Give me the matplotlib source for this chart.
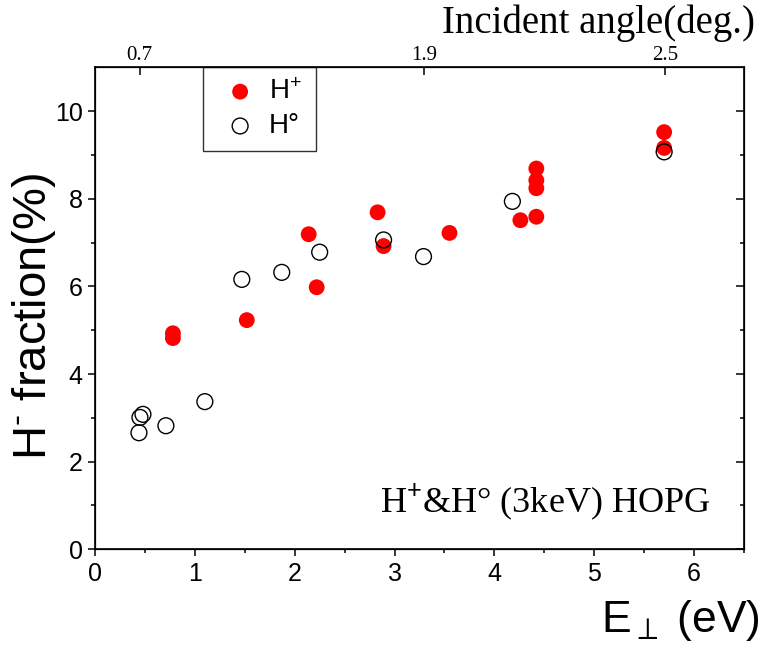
import numpy as np
import matplotlib
matplotlib.use("Agg")
import matplotlib.pyplot as plt
from matplotlib.ticker import MultipleLocator, FixedLocator

plt.rcParams["font.family"] = ["Liberation Sans", "DejaVu Sans"]
plt.rcParams["mathtext.fontset"] = "custom"
plt.rcParams["mathtext.rm"] = "Liberation Sans"
plt.rcParams["mathtext.it"] = "Liberation Sans:italic"

# H+ beam (filled red)
e_hplus = [0.78, 0.78, 1.52, 2.14, 2.22, 2.83, 2.89, 3.55, 4.26, 4.42, 4.42, 4.42, 4.42, 5.70, 5.70]
f_hplus = [4.93, 4.82, 5.23, 7.19, 5.98, 7.69, 6.92, 7.22, 7.51, 7.59, 8.69, 8.42, 8.24, 9.52, 9.16]

# H0 beam (open circles)
e_h0 = [0.44, 0.45, 0.48, 0.71, 1.10, 1.47, 1.87, 2.25, 2.89, 3.29, 4.18, 5.70]
f_h0 = [2.66, 3.01, 3.08, 2.82, 3.37, 6.16, 6.32, 6.78, 7.06, 6.68, 7.94, 9.07]

# top axis: incident angle (deg) for 3 keV beam
angles = [0.7, 1.9, 2.5]
energy_ev = 3000.0
angle_pos = [energy_ev * np.sin(np.radians(a)) ** 2 for a in angles]

serif = ["Liberation Serif", "DejaVu Serif"]

fig = plt.figure(figsize=(7.62, 6.52), dpi=100)
ax = fig.add_axes([0.1247, 0.1575, 0.8517, 0.7393])

ax.scatter(e_hplus, f_hplus, s=130, c="#ff0000", edgecolors="none", label=r"H$^{+}$", zorder=3)
ax.scatter(e_h0, f_h0, s=130, facecolors="none", edgecolors="black", linewidths=1.0,
           label="H°", zorder=4)

ax.set_xlim(0, 6.5)
ax.set_ylim(0, 11)
ax.xaxis.set_major_locator(MultipleLocator(1))
ax.xaxis.set_minor_locator(MultipleLocator(0.5))
ax.yaxis.set_major_locator(FixedLocator([0, 2, 4, 6, 8, 10]))
ax.yaxis.set_minor_locator(FixedLocator([1, 3, 5, 7, 9]))

for sp in ax.spines.values():
    sp.set_linewidth(1.2)

ax.tick_params(axis="both", which="major", direction="out", length=5, width=1.1,
               labelsize=18, pad=4)
ax.tick_params(axis="both", which="minor", direction="out", length=3, width=1.1)
ax.tick_params(top=False, right=False)

# right-side inward ticks
axr = ax.twinx()
axr.set_ylim(ax.get_ylim())
axr.yaxis.set_major_locator(FixedLocator([0, 2, 4, 6, 8, 10]))
axr.yaxis.set_minor_locator(FixedLocator([1, 3, 5, 7, 9]))
axr.tick_params(which="major", direction="in", length=6, width=1.1, labelright=False)
axr.tick_params(which="minor", direction="in", length=3, width=1.1)

# top axis: angle
axt = ax.twiny()
axt.set_xlim(ax.get_xlim())
axt.set_xticks(angle_pos)
axt.set_xticklabels([str(a) for a in angles], family=serif, fontsize=15)
axt.xaxis.set_minor_locator(FixedLocator([]))
axt.tick_params(axis="x", direction="in", length=6, width=1.1, pad=1.5)
axt.set_xlabel("Incident angle(deg.)", family=serif, fontsize=28, loc="right")
axt.xaxis.set_label_coords(1.017, 1.071)

ax.set_xlabel(r"E$_{\perp}$ (eV)", fontsize=32, loc="right")
ax.xaxis.set_label_coords(1.025, -0.195)
ax.xaxis.label.set_va("bottom")
ax.set_ylabel(r"H$^{\text{-}}$ fraction(%)", fontsize=34)
ax.yaxis.set_label_coords(-0.057, 0.484)

ax.text(0.948, 0.077, r"H$^{+}$&H° (3keV) HOPG", transform=ax.transAxes,
        family=serif, fontsize=26, ha="right", va="baseline")

leg = ax.legend(loc="upper left", bbox_to_anchor=(0.166, 0.839, 0.175, 0.161),
                mode="expand", borderaxespad=0, fontsize=20, frameon=True,
                fancybox=False, handletextpad=0.1, labelspacing=0.3,
                borderpad=0.42, handlelength=1.85, markerscale=1.0)
leg.get_frame().set_edgecolor("black")
leg.get_frame().set_linewidth(1.0)
leg.set_zorder(5)

fig.savefig("out.png", dpi=100)
